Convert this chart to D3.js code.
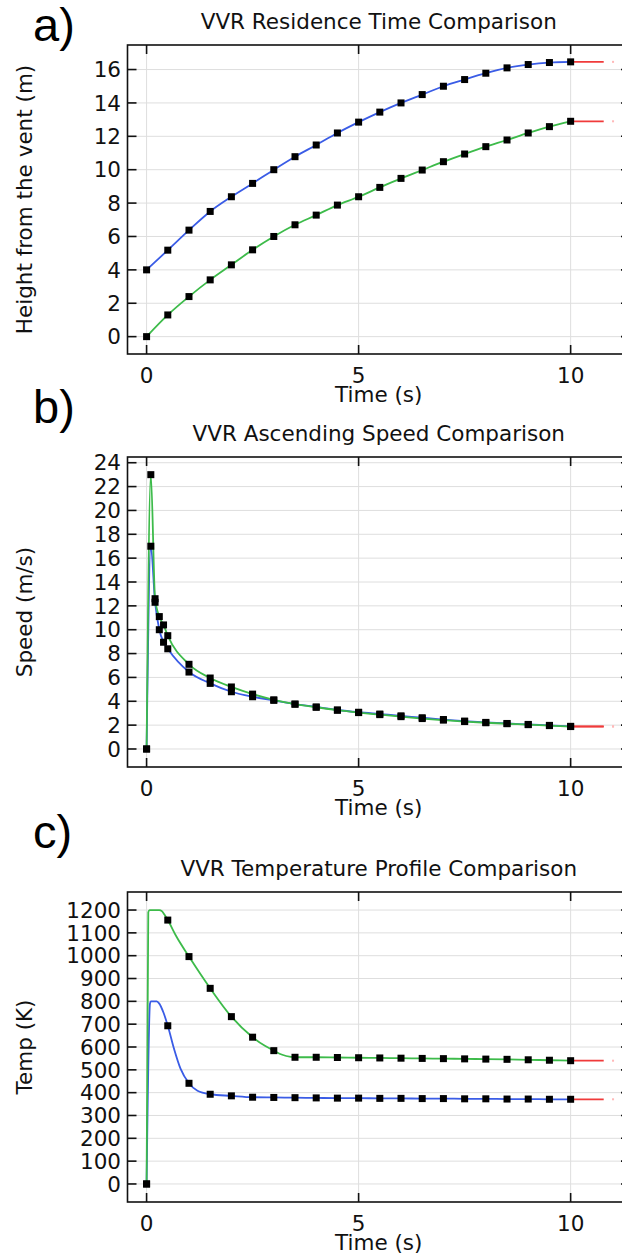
<!DOCTYPE html>
<html><head><meta charset="utf-8">
<script src="https://cdn.jsdelivr.net/npm/d3@7"></script>
<style>body{margin:0;background:#fff}svg{display:block}</style>
</head><body><svg id="c" width="622" height="1253"></svg>
<script>
// ---------- shared ----------
const timeTicks = [0, 5, 10];
const tailEndTime = 10.78;
const tailDotTime = 11.0;

// ---------- panel a: residence ----------
const resTime  = [0,0.5,1,1.5,2,2.5,3,3.5,4,4.5,5,5.5,6,6.5,7,7.5,8,8.5,9,9.5,10];
const resBlue  = [4,5.18,6.38,7.5,8.38,9.18,10,10.78,11.48,12.2,12.85,13.45,14.0,14.5,15.0,15.4,15.78,16.1,16.3,16.42,16.46];
const resGreen = [0,1.3,2.4,3.4,4.3,5.2,6.0,6.7,7.28,7.88,8.38,8.94,9.48,9.98,10.48,10.94,11.38,11.78,12.2,12.58,12.9];
const resTicks = [0,2,4,6,8,10,12,14,16];

// ---------- panel b: speed ----------
const spdTime  = [0,0.1,0.2,0.3,0.4,0.5,1,1.5,2,2.5,3,3.5,4,4.5,5,5.5,6,6.5,7,7.5,8,8.5,9,9.5,10];
const spdGreen = [0,23,12.6,11.1,10.4,9.5,7.1,5.95,5.2,4.6,4.12,3.76,3.5,3.25,3.05,2.88,2.71,2.55,2.42,2.3,2.2,2.12,2.04,1.96,1.88];
const spdBlue  = [0,17,12.3,10.0,8.95,8.4,6.45,5.5,4.8,4.38,4.08,3.76,3.52,3.27,3.08,2.93,2.78,2.62,2.47,2.34,2.23,2.14,2.06,1.98,1.9];
const spdTicks = [0,2,4,6,8,10,12,14,16,18,20,22,24];

// ---------- panel c: temperature ----------
const tmpMarkTime = [0,0.5,1,1.5,2,2.5,3,3.5,4,4.5,5,5.5,6,6.5,7,7.5,8,8.5,9,9.5,10];
const tmpGreenT = [0,0.04,0.07,0.3,0.36,0.42,0.5,0.7,1,1.5,2,2.5,2.8,3,3.2,3.4,3.5,4,4.5,5,5.5,6,6.5,7,7.5,8,8.5,9,9.5,10];
const tmpGreenV = [0,1190,1200,1200,1195,1180,1156,1085,996,857,733,643,604,584,566,557,555,555,554,553,552,551,550,549,548,547,546,544,542,540];
const tmpBlueT  = [0,0.08,0.1,0.24,0.3,0.4,0.5,0.65,0.8,1,1.2,1.5,2,2.5,3,3.5,4,4.5,5,5.5,6,6.5,7,7.5,8,8.5,9,9.5,10];
const tmpBlueV  = [0,790,800,800,790,750,693,590,505,441,408,393,386,380,379,378,377,376,376,375,375,374,374,373,373,372,372,371,371];
const tmpTicks  = [0,100,200,300,400,500,600,700,800,900,1000,1100,1200];

const BLUE = "#3a5ce6", GREEN = "#3dbb4a", RED = "#f03a3a", PINK = "#ffb8b8";
const FONT = "DejaVu Sans";
const FS = 21.5;
const svg = d3.select("#c");

const X0 = 127.5, X1 = 630;
const x = d3.scaleLinear().domain([-0.45, 11.4]).range([X0, X1]);

function panel(cfg) {
  const g = svg.append("g");
  const y = d3.scaleLinear().domain(cfg.yDomain).range([cfg.bottom, cfg.top]);
  // grid
  g.selectAll(".gy").data(cfg.yTicks).join("line")
    .attr("x1", X0).attr("x2", X1).attr("y1", d => y(d)).attr("y2", d => y(d))
    .attr("stroke", "#dedede").attr("stroke-width", 1);
  g.selectAll(".gx").data(timeTicks).join("line")
    .attr("x1", d => x(d)).attr("x2", d => x(d)).attr("y1", cfg.top).attr("y2", cfg.bottom)
    .attr("stroke", "#dedede").attr("stroke-width", 1);

  // series
  const line = d3.line().x(d => x(d[0])).y(d => y(d[1])).curve(d3.curveMonotoneX);
  cfg.series.forEach(s => {
    const pts = s.t.map((t, i) => [t, s.v[i]]);
    g.append("path").attr("d", line(pts)).attr("fill", "none")
      .attr("stroke", s.color).attr("stroke-width", 1.8);
    const last = pts[pts.length - 1];
    g.append("line").attr("x1", x(last[0])).attr("x2", x(tailEndTime))
      .attr("y1", y(last[1])).attr("y2", y(last[1]))
      .attr("stroke", RED).attr("stroke-width", 1.8);
    g.append("rect").attr("x", x(tailDotTime) - 1).attr("y", y(last[1]) - 1)
      .attr("width", 2).attr("height", 2).attr("fill", PINK);
  });
  cfg.series.forEach(s => {
    const pts = s.t.map((t, i) => [t, s.v[i]]).filter(p => !s.marks || s.marks.includes(p[0]));
    g.selectAll(null).data(pts).join("rect")
      .attr("x", d => x(d[0]) - 3.5).attr("y", d => y(d[1]) - 3.5)
      .attr("width", 7).attr("height", 7).attr("fill", "#000");
  });

  // frame
  g.append("rect").attr("x", X0).attr("y", cfg.top).attr("width", X1 - X0).attr("height", cfg.bottom - cfg.top)
    .attr("fill", "none").attr("stroke", "#111").attr("stroke-width", 1.6);
  const TL = 9;
  g.selectAll(".tl").data(cfg.yTicks).join("line")
    .attr("x1", X0).attr("x2", X0 + TL).attr("y1", d => y(d)).attr("y2", d => y(d))
    .attr("stroke", "#111").attr("stroke-width", 1.6);
  g.selectAll(".tr").data(cfg.yTicks).join("line")
    .attr("x1", X1 - TL).attr("x2", X1).attr("y1", d => y(d)).attr("y2", d => y(d))
    .attr("stroke", "#111").attr("stroke-width", 1.6);
  g.selectAll(".tb").data(timeTicks).join("line")
    .attr("x1", d => x(d)).attr("x2", d => x(d)).attr("y1", cfg.bottom).attr("y2", cfg.bottom - TL)
    .attr("stroke", "#111").attr("stroke-width", 1.6);
  g.selectAll(".tt").data(timeTicks).join("line")
    .attr("x1", d => x(d)).attr("x2", d => x(d)).attr("y1", cfg.top).attr("y2", cfg.top + TL)
    .attr("stroke", "#111").attr("stroke-width", 1.6);

  // labels
  g.selectAll(".yl").data(cfg.yTicks).join("text")
    .attr("x", 121).attr("y", d => y(d)).attr("dy", "0.36em").attr("text-anchor", "end")
    .attr("font-family", FONT).attr("font-size", FS).attr("fill", "#111").text(d => d);
  g.selectAll(".xl").data(timeTicks).join("text")
    .attr("x", d => x(d)).attr("y", cfg.bottom + 21).attr("dy", "0.36em").attr("text-anchor", "middle")
    .attr("font-family", FONT).attr("font-size", FS).attr("fill", "#111").text(d => d);
  g.append("text").attr("x", (X0 + X1) / 2).attr("y", cfg.bottom + 40).attr("dy", "0.36em")
    .attr("text-anchor", "middle").attr("font-family", FONT).attr("font-size", FS).attr("fill", "#111")
    .text("Time (s)");
  g.append("text").attr("transform", `translate(24,${(cfg.top + cfg.bottom) / 2}) rotate(-90)`)
    .attr("dy", "0.36em").attr("text-anchor", "middle").attr("font-family", FONT)
    .attr("font-size", FS).attr("fill", "#111").text(cfg.yLabel);
  g.append("text").attr("x", (X0 + X1) / 2).attr("y", cfg.top - 24).attr("dy", "0.36em")
    .attr("text-anchor", "middle").attr("font-family", FONT).attr("font-size", FS).attr("fill", "#111")
    .text(cfg.title);
  g.append("text").attr("x", 33).attr("y", cfg.letterY).attr("font-family", "Liberation Sans")
    .attr("font-size", 47).attr("fill", "#000").text(cfg.letter);
}

panel({
  top: 45, bottom: 354, yDomain: [-1.04, 17.47], yTicks: resTicks,
  title: "VVR Residence Time Comparison", yLabel: "Height from the vent (m)",
  letter: "a)", letterY: 41,
  series: [
    { t: resTime, v: resBlue, color: BLUE },
    { t: resTime, v: resGreen, color: GREEN }
  ]
});
panel({
  top: 457, bottom: 767, yDomain: [-1.51, 24.48], yTicks: spdTicks,
  title: "VVR Ascending Speed Comparison", yLabel: "Speed (m/s)",
  letter: "b)", letterY: 423,
  series: [
    { t: spdTime, v: spdBlue, color: BLUE },
    { t: spdTime, v: spdGreen, color: GREEN }
  ]
});
panel({
  top: 892, bottom: 1202, yDomain: [-79, 1279], yTicks: tmpTicks,
  title: "VVR Temperature Profile Comparison", yLabel: "Temp (K)",
  letter: "c)", letterY: 848,
  series: [
    { t: tmpBlueT, v: tmpBlueV, color: BLUE, marks: tmpMarkTime },
    { t: tmpGreenT, v: tmpGreenV, color: GREEN, marks: tmpMarkTime }
  ]
});
</script></body></html>
